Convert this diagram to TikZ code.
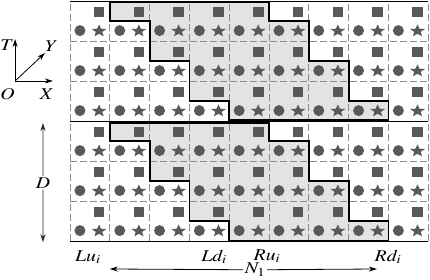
\documentclass[tikz,border=0pt]{standalone}
\usepackage{mathptmx}
\usetikzlibrary{shapes.geometric, arrows.meta}
\begin{document}
\begin{tikzpicture}[x=39.8pt, y=40pt, >={Stealth[length=8pt, width=5pt]}, line width=0.8pt,
		every node/.style={font=\fontsize{16.5}{19}\selectfont, inner sep=1pt, xscale=1.2},
		gridline/.style={black!45, dash pattern=on 7pt off 3pt},
		region/.style={fill=black!11},
		border/.style={black, line width=1.8pt},
		sqmark/.style={fill=black!65},
		starmark/.style={star, star points=5, star point ratio=2.3, fill=black!65, minimum size=13pt, inner sep=0pt, xscale=1}]
	\useasboundingbox (-1.759,-0.975) rectangle (9.045,6.025);
	
	% ================= 阴影区域 =================
	\foreach \b/\lo/\hi in {0/0/2.95, 3/3.025/5.975}
		\fill[region] (1,\hi) -- (5,\hi) -- (5,\b+2.5) -- (6,\b+2.5) -- (6,\b+1.5) -- (7,\b+1.5) -- (7,\b+0.5) -- (8,\b+0.5) -- (8,\lo) -- (4,\lo) -- (4,\b+0.5) -- (3,\b+0.5) -- (3,\b+1.5) -- (2,\b+1.5) -- (2,\b+2.5) -- (1,\b+2.5) -- cycle;
	
	% ================= 网格 =================
	\foreach \c in {0,...,9}
		\draw[gridline] (\c,0) -- (\c,6);
	\foreach \r in {1,2,4,5}
		\draw[gridline] (0,\r) -- (9,\r);
	\foreach \r in {0,3,6}
		\draw[black] (0,\r) -- (9,\r);
	
	% 区域边界
	\foreach \b/\lo/\hi in {0/0/2.95, 3/3.025/5.975}
		\draw[border] (1,\hi) -- (5,\hi) -- (5,\b+2.5) -- (6,\b+2.5) -- (6,\b+1.5) -- (7,\b+1.5) -- (7,\b+0.5) -- (8,\b+0.5) -- (8,\lo) -- (4,\lo) -- (4,\b+0.5) -- (3,\b+0.5) -- (3,\b+1.5) -- (2,\b+1.5) -- (2,\b+2.5) -- (1,\b+2.5) -- cycle;
	
	% 每格：方块、圆、星
	\foreach \c in {0,...,8}
		\foreach \r in {0,...,5} {
			\fill[sqmark] (\c+0.6,\r+0.595) rectangle ++(0.265,0.26);
			\fill[black!65] (\c+0.25,\r+0.26) circle (5.5pt);
			\node[starmark] at (\c+0.73,\r+0.25) {};
		}
	
	% ================= 坐标系 =================
	\coordinate (O) at (-1.38,4.0);
	\coordinate (Tend) at (-1.38,5.05);
	\coordinate (Yend) at (-0.63,4.7);
	\coordinate (Xend) at (-0.43,4.0);
	\draw[->] (O) -- (Tend);
	\draw[->] (O) -- (Yend);
	\draw[->] (O) -- (Xend);
	\node (tlab) at (-1.58,4.9) {$T$};
	\node (ylab) at (-0.46,4.88) {$Y$};
	\node (xlab) at (-0.58,3.68) {$X$};
	\node (olab) at (-1.57,3.68) {$O$};
	
	% 行高 D
	\node (dlab) at (-0.68,1.45) {$D$};
	\coordinate (dtop) at (-0.68,2.95);
	\coordinate (dbot) at (-0.68,-0.03);
	\draw[->, black!85] (dlab) -- (dtop);
	\draw[->, black!85] (dlab) -- (dbot);
	
	% ================= 底部标注 =================
	\node (lu) at (0.45,-0.4) {$Lu_i$};
	\node (ld) at (3.62,-0.4) {$Ld_i$};
	\node (ru) at (4.95,-0.38) {$Ru_i$};
	\node (rd) at (7.99,-0.4) {$Rd_i$};
	\node (nlab) at (4.65,-0.72) {$N_1$};
	\coordinate (nleft) at (1,-0.7);
	\coordinate (nright) at (7.71,-0.7);
	\draw[->] (nlab) -- (nleft);
	\draw[->] (nlab) -- (nright);
\end{tikzpicture}
\end{document}
